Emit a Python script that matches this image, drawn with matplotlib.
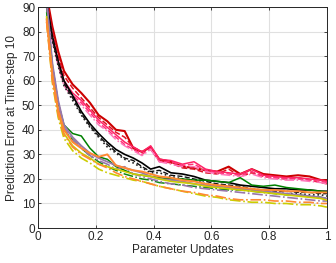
import matplotlib
matplotlib.use("Agg")
import matplotlib.pyplot as plt

plt.rcParams['font.family'] = ['Liberation Sans', 'DejaVu Sans']

x = [0.03, 0.05, 0.07, 0.09, 0.12, 0.15, 0.18, 0.21, 0.24, 0.27, 0.30, 0.33, 0.36, 0.39, 0.42,
     0.46, 0.50, 0.54, 0.58, 0.62, 0.66, 0.70, 0.74, 0.78, 0.82, 0.86, 0.90, 0.94, 0.98, 1.0]

red_solid = [95, 82, 72, 64, 58.5, 55, 51, 46, 43.5, 40, 39.5, 32.5, 31, 33, 28, 27, 25, 24.5, 23.5, 23,
             25, 22, 24, 22, 21.5, 21, 21.5, 21, 19.5, 19.5]
red_dash = [93, 80, 70, 62, 57, 53, 49, 45, 42, 39, 37, 33, 31, 32, 27.5, 26.5, 24.5, 24, 22.5, 22,
            24, 21, 22.5, 21, 20.5, 20, 20.5, 19.5, 18.5, 18]
pink_solid = [92, 78, 68, 60, 55, 52, 48, 44, 41, 38, 35, 33, 31, 33.5, 28, 27.5, 26, 27, 24, 23,
              22.5, 22, 24, 21.5, 21, 20.5, 20.5, 20, 19.5, 19]
pink_dash = [91, 77, 67, 59, 54, 51, 47, 43, 40, 37, 34, 32, 30, 32.5, 27, 27, 25.5, 26, 23.5, 22.5,
             22, 21.5, 23, 21, 20.5, 20, 20, 19.5, 19, 18.5]
hotpink_dashdot = [90, 76, 66, 58, 53, 50, 46, 42, 39.5, 36, 33.5, 31.5, 29.5, 32, 27, 26, 25, 25, 23, 22,
                   21.5, 21, 22, 20.5, 20, 19.5, 19.5, 19, 18.5, 18]
black_solid = [92, 78, 68, 60, 54, 47.5, 42.5, 38.5, 35, 32, 30, 28.5, 26.5, 24, 25, 22.5, 22, 21, 19.5, 19,
               18.5, 17.5, 17, 16.5, 16, 16, 15.5, 15.5, 15, 15]
black_dash = [91, 77, 67, 59, 53, 46.5, 41.5, 37.5, 34, 31, 28.5, 27.5, 25, 23, 23.5, 21.5, 21, 20, 19, 18,
              17.5, 17, 16, 15.5, 15, 15, 14.5, 14.5, 14, 14]
black_dot = [90, 76, 66, 58, 52, 46, 41, 37, 33, 30.5, 28, 26.5, 24.5, 22.5, 22.5, 21, 20, 19.5, 18, 17.5,
             17, 16, 15.5, 15, 14.5, 14, 14, 13.5, 13.5, 13]
green_solid = [90, 66, 51, 42, 38.5, 37.5, 32.5, 29, 28, 25, 23.5, 22, 21.5, 21, 20.5, 20, 20, 19.5, 19.5, 19,
               18.5, 20.5, 17.5, 17, 17.5, 16.5, 16, 15.5, 15, 14.7]
green_dashdot = [88, 64, 49, 40, 36, 32.5, 29.5, 27, 25, 23.5, 22, 21, 20, 19.5, 18.5, 18, 17.5, 17, 16.5, 16,
                 15.5, 15.5, 15, 14.5, 14, 13.5, 13.5, 13, 12.5, 12]
purple_solid = [93, 67, 52, 42, 37, 33.5, 30.5, 28.5, 27, 25.5, 24.5, 23.5, 22.5, 21, 20, 19.5, 19, 18, 17.5, 17,
                16.5, 16, 15.5, 15, 14.5, 14, 13.5, 13, 12.5, 12]
purple_dashdot = [92, 66, 51, 41, 36, 32.5, 29.5, 27.5, 26, 24, 25, 22, 21, 20, 19, 18, 17.5, 16.5, 16, 15.5,
                  15, 14.5, 14, 13.5, 13, 12.5, 12, 11.5, 11, 11]
yellow_solid = [86, 62, 47, 38.5, 33.5, 30.5, 28.5, 26, 25, 24, 23, 22, 21.5, 21, 20, 19, 18.5, 18, 17, 16.5,
                16, 15.5, 15, 14.5, 14, 13.5, 13, 12.5, 12, 11.3]
yellow_dashdot = [84, 59, 45, 36.5, 31.5, 28.5, 26.5, 24, 22.5, 21.5, 20.5, 19.5, 19, 18, 17, 16, 15, 14, 13, 12.5,
                  11.5, 11, 10.5, 10.5, 10, 10, 9.5, 9.5, 9, 8.5]
orange_solid = [85, 62, 48, 40, 35, 32.5, 30.5, 29, 30, 25.5, 24.5, 23.5, 23, 22, 21, 20.5, 19.5, 19, 18, 17.5,
                17, 16.5, 16, 15.5, 15.5, 15, 15, 14.5, 14.5, 14.5]
orange_dashdot = [84, 60, 46, 38, 33, 30, 28, 26, 24.5, 22.5, 21, 20, 19, 18, 17, 16, 15, 14.5, 13.5, 13,
                  12, 11.5, 11.5, 11.5, 11, 11, 10.5, 10.5, 10, 10]

series = [
    (red_solid, '#cc0000', '-', 1.5),
    (red_dash, '#dd1122', '--', 1.1),
    (pink_solid, '#ff2266', '-', 1.1),
    (pink_dash, '#ff3377', '--', 1.1),
    (hotpink_dashdot, '#ff77bb', '-.', 1.1),
    (black_solid, '#000000', '-', 1.2),
    (black_dash, '#111111', '--', 1.0),
    (black_dot, '#222222', ':', 1.2),
    (green_solid, '#008000', '-', 1.1),
    (green_dashdot, '#118811', '-.', 1.1),
    (purple_solid, '#9977aa', '-', 1.3),
    (purple_dashdot, '#9977aa', '-.', 1.2),
    (yellow_solid, '#cccc00', '-', 1.2),
    (yellow_dashdot, '#cccc00', '-.', 1.2),
    (orange_solid, '#ff8833', '-', 1.4),
    (orange_dashdot, '#ff8833', '-.', 1.2),
]

fig = plt.figure(figsize=(3.36, 2.63), dpi=100)
ax = fig.add_axes([0.113, 0.133, 0.86, 0.84])

for ys, c, ls, lw in series:
    ax.plot(x, ys, color=c, linestyle=ls, linewidth=lw)

ax.set_xlim(0, 1)
ax.set_ylim(0, 90)
ax.set_xticks([0, 0.2, 0.4, 0.6, 0.8, 1])
ax.set_xticklabels(['0', '0.2', '0.4', '0.6', '0.8', '1'])
ax.set_yticks(range(0, 91, 10))
ax.grid(True, color='#e0e0e0', linewidth=0.8)
ax.set_axisbelow(True)
ax.tick_params(direction='in', length=2.5, width=0.6, labelsize=8.5, top=True, right=True, pad=2,
               colors='#262626')
for s in ax.spines.values():
    s.set_linewidth(0.7)
    s.set_color('#262626')
ax.set_xlabel('Parameter Updates', fontsize=8.5, labelpad=1, color='#262626')
ax.set_ylabel('Prediction Error at Time-step 10', fontsize=8.5, labelpad=3, color='#262626')

fig.savefig('out.png', dpi=100)
